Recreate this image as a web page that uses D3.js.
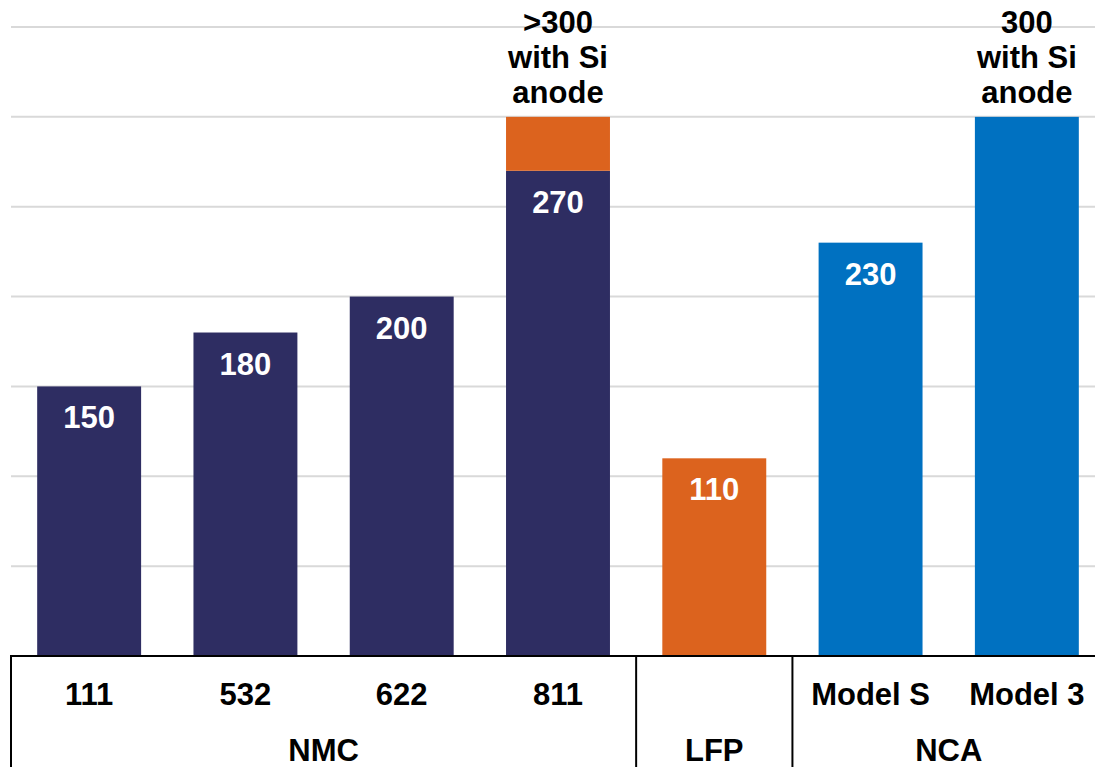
<!DOCTYPE html>
<html>
<head>
<meta charset="utf-8">
<script src="https://cdn.jsdelivr.net/npm/d3@7"></script>
<style>
  html, body { margin: 0; padding: 0; background: #fff; }
  svg { display: block; font-family: "Liberation Sans", Arial, sans-serif; }
</style>
</head>
<body>
<svg id="chart" width="1095" height="767"></svg>
<script>
// Cell energy density by cathode chemistry (Wh/kg)
const categories = ["111", "532", "622", "811", "LFP", "Model S", "Model 3"];
const tickLabels = ["111", "532", "622", "811", "", "Model S", "Model 3"];
const values     = [150, 180, 200, 270, 110, 230, 300];
const siAnodeExtra = [0, 0, 0, 30, 0, 0, 0];
const valueLabels = ["150", "180", "200", "270", "110", "230", ""];
const topNotes = [[], [], [], [">300", "with Si", "anode"], [], [], ["300", "with Si", "anode"]];
const groupNames = ["NMC", "LFP", "NCA"];
const groupSizes = [4, 1, 2];
const groupColors = { NMC: "#2e2d62", LFP: "#dc631e", NCA: "#0071c1" };
const siColor = "#dc631e";
const gridTicks = [50, 100, 150, 200, 250, 300, 350];

const svg = d3.select("#chart");
const baseY = 656;
const fontSize = 31;

// which group each category belongs to
const groupOf = [];
groupNames.forEach((g, i) => { for (let k = 0; k < groupSizes[i]; k++) groupOf.push(g); });

const x = d3.scaleBand().domain(categories).range([11, 1105]).paddingInner(0.335).paddingOuter(0.1675);
const y = d3.scaleLinear().domain([0, 350]).range([baseY, 27]);

// gridlines
svg.append("g").selectAll("line").data(gridTicks).join("line")
  .attr("x1", 11).attr("x2", 1095)
  .attr("y1", d => y(d)).attr("y2", d => y(d))
  .attr("stroke", "#d9d9d9").attr("stroke-width", 2);

// main bars
svg.append("g").selectAll("rect").data(categories).join("rect")
  .attr("x", d => x(d))
  .attr("width", x.bandwidth())
  .attr("y", (d, i) => y(values[i]))
  .attr("height", (d, i) => baseY - y(values[i]))
  .attr("fill", (d, i) => groupColors[groupOf[i]]);

// silicon-anode increment on top
svg.append("g").selectAll("rect").data(categories.filter((d, i) => siAnodeExtra[i] > 0)).join("rect")
  .attr("x", d => x(d))
  .attr("width", x.bandwidth())
  .attr("y", d => { const i = categories.indexOf(d); return y(values[i] + siAnodeExtra[i]); })
  .attr("height", d => { const i = categories.indexOf(d); return y(values[i]) - y(values[i] + siAnodeExtra[i]); })
  .attr("fill", siColor);

// value labels inside bars
svg.append("g").selectAll("text").data(categories).join("text")
  .attr("x", d => x(d) + x.bandwidth() / 2)
  .attr("y", (d, i) => y(values[i]) + 42)
  .attr("text-anchor", "middle")
  .attr("font-size", fontSize).attr("font-weight", "bold").attr("fill", "#fff")
  .text((d, i) => valueLabels[i]);

// notes above bars
categories.forEach((c, i) => {
  const lines = topNotes[i];
  if (!lines.length) return;
  const top = y(values[i] + siAnodeExtra[i]);
  const t = svg.append("text")
    .attr("text-anchor", "middle")
    .attr("font-size", fontSize).attr("font-weight", "bold").attr("fill", "#000");
  lines.forEach((ln, k) => {
    t.append("tspan")
      .attr("x", x(c) + x.bandwidth() / 2)
      .attr("y", top - 14 - (lines.length - 1 - k) * 35)
      .text(ln);
  });
});

// axis baseline
svg.append("line").attr("x1", 10).attr("x2", 1095).attr("y1", baseY).attr("y2", baseY)
  .attr("stroke", "#000").attr("stroke-width", 2);

// category tick labels
svg.append("g").selectAll("text").data(categories).join("text")
  .attr("x", d => x(d) + x.bandwidth() / 2)
  .attr("y", 705)
  .attr("text-anchor", "middle")
  .attr("font-size", fontSize).attr("font-weight", "bold").attr("fill", "#000")
  .text((d, i) => tickLabels[i]);

// group separators and group labels
let start = 0;
const step = x.step();
const x0 = x.range()[0];
groupNames.forEach((g, gi) => {
  const left = x0 + start * step;
  const right = x0 + (start + groupSizes[gi]) * step;
  svg.append("line").attr("x1", left).attr("x2", left).attr("y1", baseY).attr("y2", 767)
    .attr("stroke", "#000").attr("stroke-width", 2);
  svg.append("text")
    .attr("x", (left + right) / 2).attr("y", 761)
    .attr("text-anchor", "middle")
    .attr("font-size", fontSize).attr("font-weight", "bold").attr("fill", "#000")
    .text(g);
  start += groupSizes[gi];
});
</script>
</body>
</html>
